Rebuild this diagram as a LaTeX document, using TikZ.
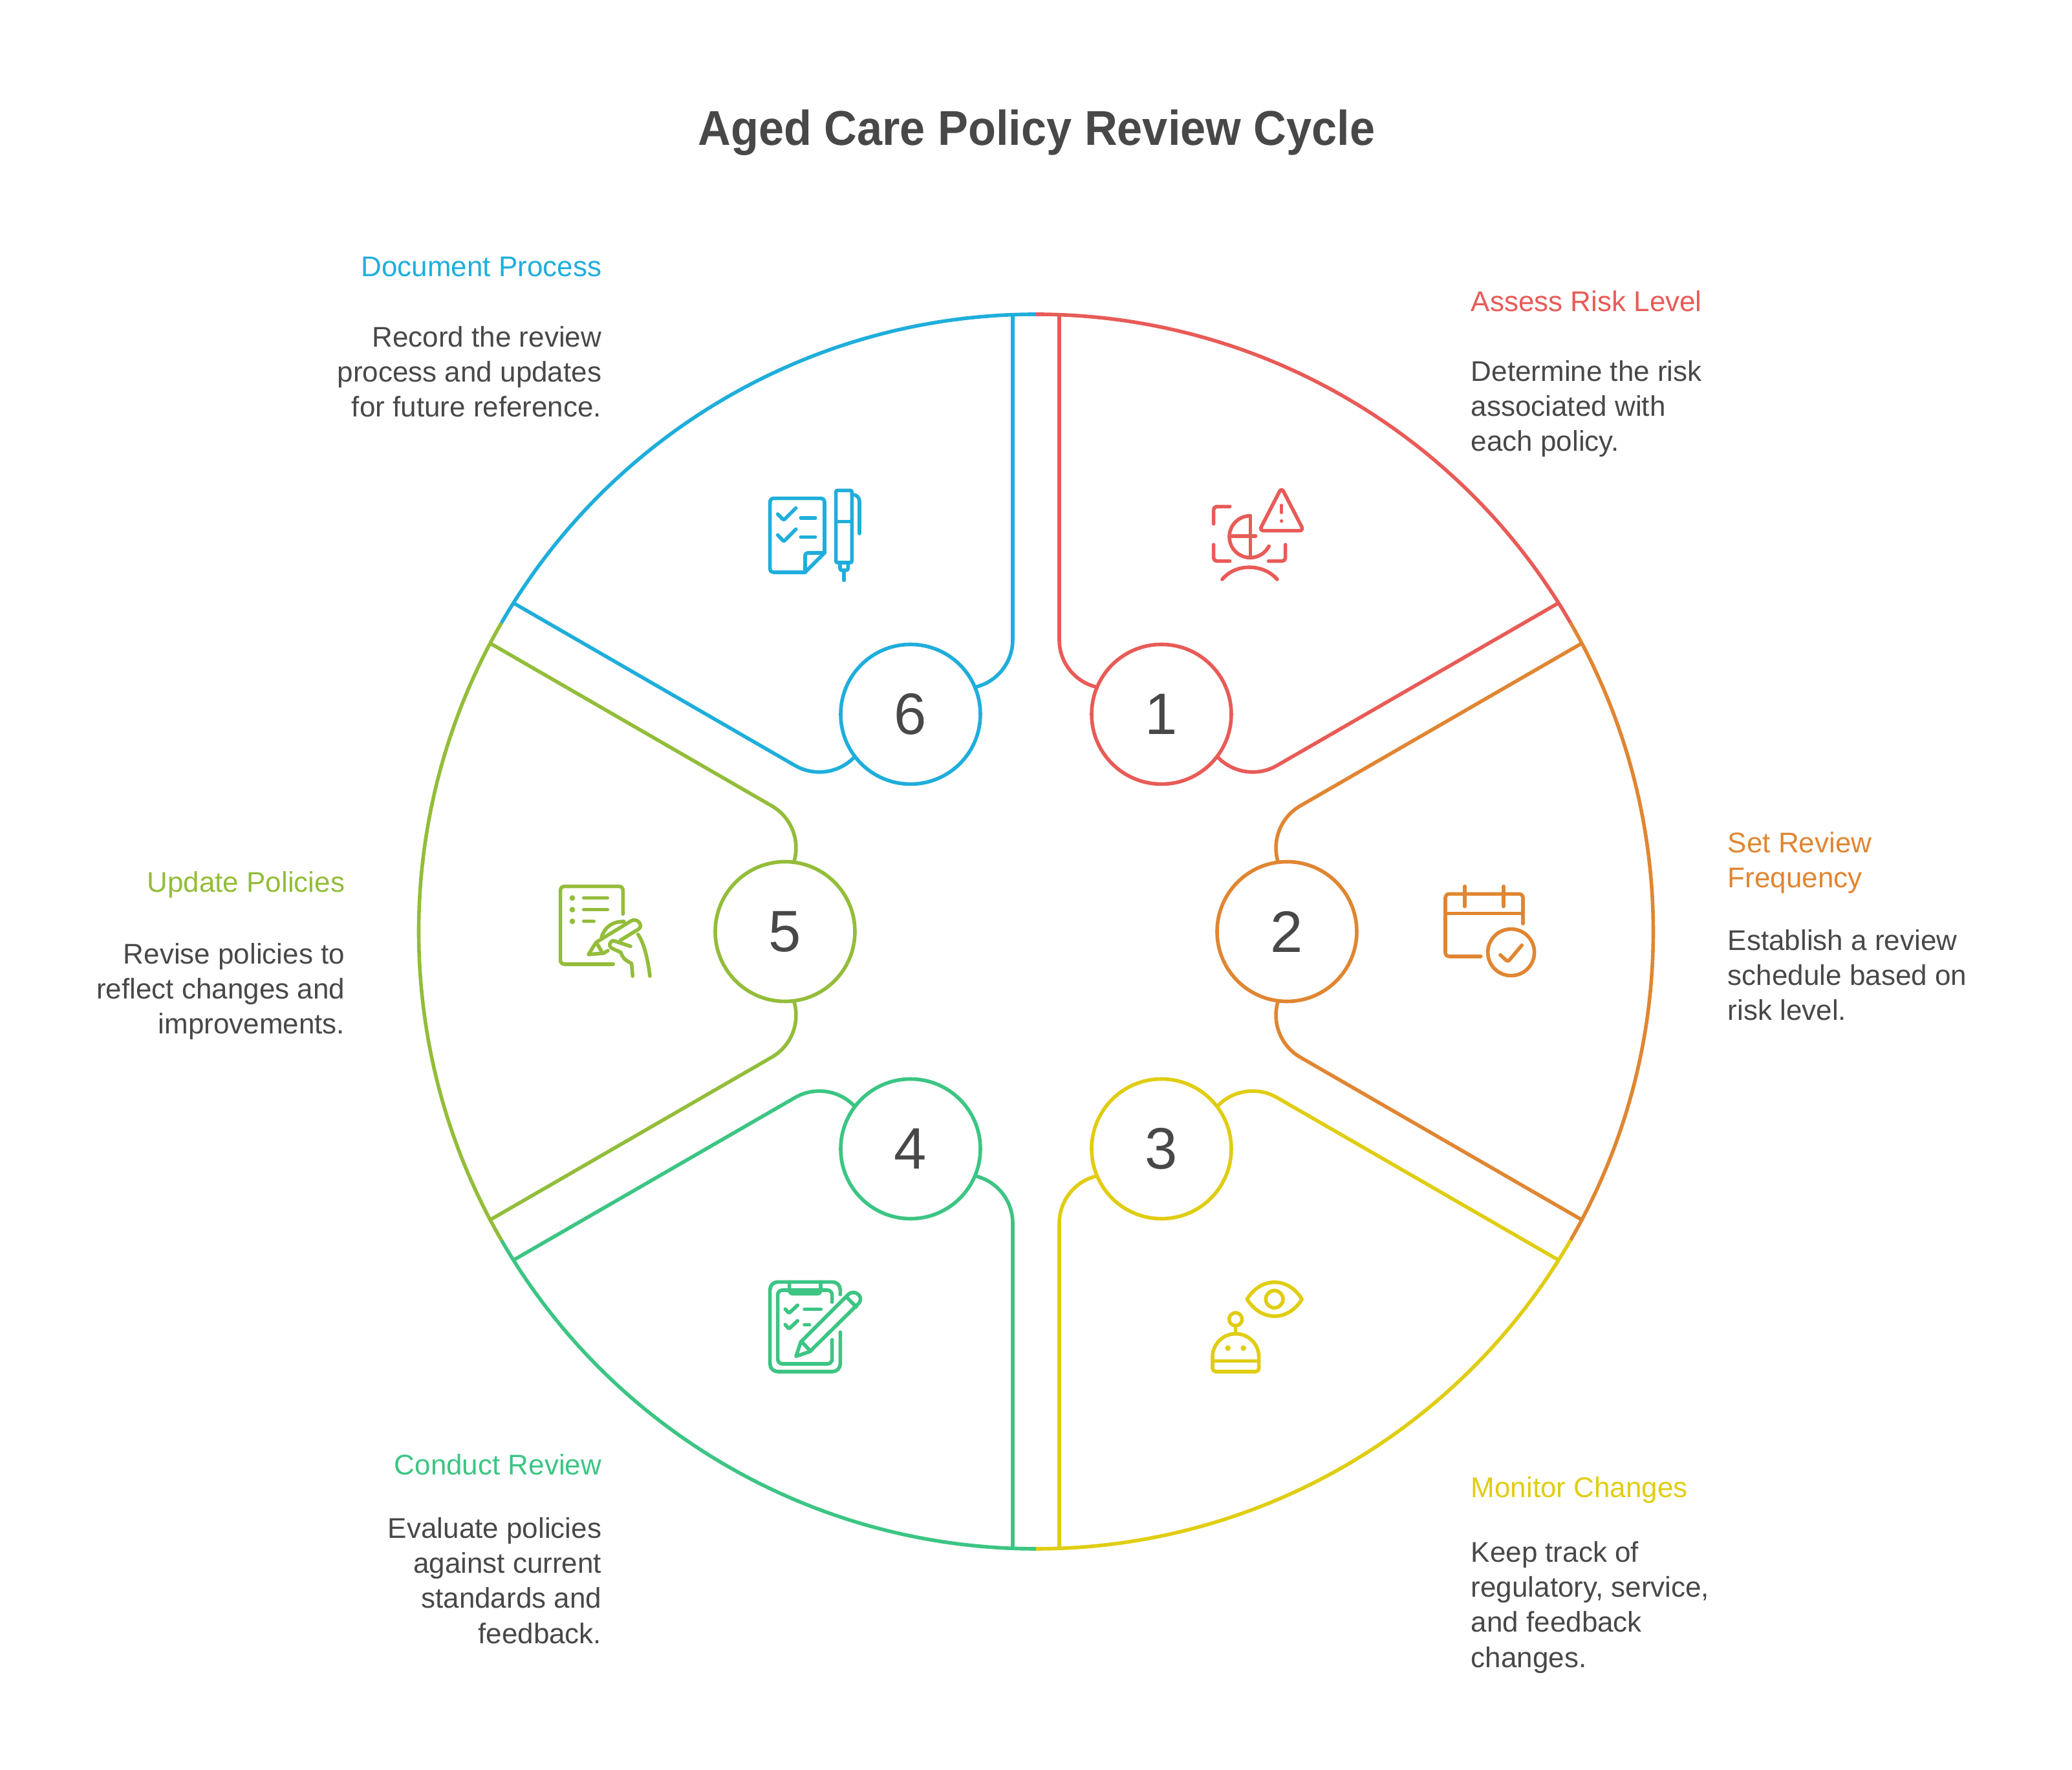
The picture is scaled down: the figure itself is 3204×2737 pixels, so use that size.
\documentclass[tikz,border=0pt]{standalone}
\usepackage{fontspec}
\setmainfont{Liberation Sans}
\newfontfamily\titlefont[FakeStretch=0.93]{Liberation Sans}
\usetikzlibrary{calc}
\definecolor{seg1}{HTML}{E85B57}
\definecolor{seg2}{HTML}{E08632}
\definecolor{seg3}{HTML}{E0CD12}
\definecolor{seg4}{HTML}{3CC583}
\definecolor{seg5}{HTML}{93BD3A}
\definecolor{seg6}{HTML}{1FAEDB}
\definecolor{ink}{HTML}{484848}
\tikzset{
  seg/.style={line width=1.4pt, line join=round},
  ico/.style={line width=1.4pt, line cap=round, line join=round},
  numc/.style={circle, fill=white, line width=1.4pt, minimum size=54pt, inner sep=0pt, text=ink, font=\fontsize{22.6}{24}\selectfont},
  hd/.style={inner sep=0pt, font=\fontsize{11}{13.57}\selectfont},
  bd/.style={inner sep=0pt, text=ink, font=\fontsize{11}{13.57}\selectfont},
  zoomat/.style 2 args={shift={(#1-1602,1440.5-#2)},xscale=0.3333,yscale=-0.3333},
}
\begin{document}
\begin{tikzpicture}[x=0.25pt,y=0.25pt]
  \useasboundingbox (-1602,-1296.5) rectangle (1602,1440.5);
  \node[inner sep=0pt, anchor=base, text=ink, font=\fontsize{18.9}{22}\titlefont\bfseries] (title) at (1,1215.5) {Aged Care Policy Review Cycle};
  % the six segments, all cut from the same outline
  \foreach \n/\ang in {1/0,2/-60,3/-120,4/-180,5/-240,6/-300} {
    \begin{scope}[rotate=\ang]
      \draw[seg,draw=seg\n] (90:954.5) arc[start angle=90,end angle=30,radius=954.5]
        (32.16:954.5) -- ($(43.83:464.5)+(-60:75)$) arc[start angle=-60,end angle=-136,radius=75];
      \draw[seg,draw=seg\n] (87.84:954.5) -- (36,451) arc[start angle=180,end angle=256,radius=75];
      \node[numc,draw=seg\n] (num\n) at (60:388) {\n};
    \end{scope}
  }
  % labels
  \node[hd,text=seg1,anchor=north west] (head1) at (672,992) {Assess Risk Level};
  \node[bd,anchor=north west,align=left] (body1) at (672,884) {Determine the risk\\associated with\\each policy.};
  \node[hd,text=seg2,anchor=north west,align=left] (head2) at (1069,155) {Set Review\\Frequency};
  \node[bd,anchor=north west,align=left] (body2) at (1069,4) {Establish a review\\schedule based on\\risk level.};
  \node[hd,text=seg3,anchor=north west] (head3) at (672,-842) {Monitor Changes};
  \node[bd,anchor=north west,align=left] (body3) at (672,-942) {Keep track of\\regulatory, service,\\and feedback\\changes.};
  \node[hd,text=seg4,anchor=north east] (head4) at (-671,-807) {Conduct Review};
  \node[bd,anchor=north east,align=right] (body4) at (-671,-905) {Evaluate policies\\against current\\standards and\\feedback.};
  \node[hd,text=seg5,anchor=north east] (head5) at (-1068,94) {Update Policies};
  \node[bd,anchor=north east,align=right] (body5) at (-1068,-17) {Revise policies to\\reflect changes and\\improvements.};
  \node[hd,text=seg6,anchor=north east] (head6) at (-671,1044) {Document Process};
  \node[bd,anchor=north east,align=right] (body6) at (-671,937) {Record the review\\process and updates\\for future reference.};
  % icon 1
  \begin{scope}[zoomat={1840}{730},ico,draw=seg1]
    \draw[rounded corners=1.25pt] (110,240) -- (110,160) -- (185,160);
    \draw[rounded corners=1.25pt] (110,337) -- (110,413) -- (185,413);
    \draw[rounded corners=1.25pt] (365,413) -- (443,413) -- (443,337);
    \draw[rounded corners=1.7pt] (425,72) -- (528,272) -- (322,272) -- cycle;
    \draw (425,155) -- (425,187);
    \fill[seg1] (425,227) circle[radius=8];
    \draw (280,203) arc[start angle=-90,end angle=-333,radius=97];
    \draw (280,203) -- (280,392) (183,297) -- (305,297);
    \draw (150,498) .. controls (210,423) and (340,423) .. (405,498);
  \end{scope}
  % icon 2
  \begin{scope}[zoomat={2210}{1350},ico,draw=seg2]
    \draw[rounded corners=1.5pt] (435,235) -- (435,97) -- (75,97) -- (75,387) -- (240,387);
    \draw (75,188) -- (435,188);
    \draw (165,62) -- (165,155) (345,62) -- (345,155);
    \draw (380,368) circle[radius=108];
    \draw[rounded corners=0.8pt] (330,380) -- (365,412) -- (430,335);
  \end{scope}
  % icon 3
  \begin{scope}[zoomat={1850}{1960},ico,draw=seg3]
    \draw (235,147) .. controls (300,42) and (425,42) .. (490,147) .. controls (425,252) and (300,252) .. cycle;
    \draw (362,147) circle[radius=40];
    \draw (182,240) circle[radius=30];
    \draw (182,270) -- (182,308);
    \draw[rounded corners=1.25pt] (75,415) -- (75,483) -- (290,483) -- (290,415);
    \draw (75,415) arc[start angle=180,end angle=360,radius=107.5];
    \draw (75,433) -- (290,433);
    \fill[seg3] (146,374) circle[radius=13] (218,374) circle[radius=13];
  \end{scope}
  % icon 4
  \begin{scope}[zoomat={1170}{1960},ico,draw=seg4]
    \draw[rounded corners=3pt] (388,125) -- (388,67) -- (62,67) -- (62,483) -- (388,483) -- (388,300);
    \draw[rounded corners=1.8pt] (350,160) -- (350,105) -- (98,105) -- (98,447) -- (350,447) -- (350,335);
    \draw[rounded corners=1.25pt] (152,67) -- (152,122) -- (297,122) -- (297,67);
    \draw[rounded corners=0.5pt] (133,193) -- (150,212) -- (190,175);
    \draw[rounded corners=0.5pt] (133,265) -- (150,285) -- (190,247);
    \draw (222,194) -- (298,194) (222,266) -- (245,266);
    \draw (183,412) -- (205,345) -- (425,125) .. controls (450,100) and (500,130) .. (475,165) -- (247,390) -- cycle;
    \draw (420,140) -- (462,183) (210,345) -- (250,388);
  \end{scope}
  % icon 5
  \begin{scope}[zoomat={850}{1350},ico,draw=seg5]
    \draw[rounded corners=1.5pt] (340,190) -- (340,62) -- (50,62) -- (50,423) -- (295,423);
    \fill[seg5] (105,116) circle[radius=13] (105,170) circle[radius=13] (105,224) circle[radius=13];
    \draw (158,116) -- (268,116) (158,170) -- (268,170) (158,224) -- (205,224);
    \draw (270,360) -- (250,372) -- (180,378) -- (215,322) -- (378,222) .. controls (405,205) and (440,245) .. (410,262) -- (328,312);
    \draw (218,325) -- (240,362);
    \draw (375,340) -- (300,315) .. controls (275,310) and (270,345) .. (295,352) -- (330,368) .. controls (340,400) and (355,405) .. (380,420) -- (385,478);
    \draw (410,285) .. controls (440,330) and (455,400) .. (465,478);
    \draw (240,300) .. controls (255,250) and (290,225) .. (345,225);
  \end{scope}
  % icon 6
  \begin{scope}[zoomat={1170}{740},ico,draw=seg6]
    \draw[rounded corners=1.25pt] (315,345) -- (315,92) -- (62,92) -- (62,435) -- (225,435);
    \draw (225,435) -- (315,345);
    \draw[rounded corners=1pt] (225,435) -- (225,345) -- (315,345);
    \draw[rounded corners=0.4pt] (98,165) -- (126,193) -- (182,137);
    \draw[rounded corners=0.4pt] (98,262) -- (126,292) -- (182,235);
    \draw (205,183) -- (272,183) (205,272) -- (272,272);
    \draw[rounded corners=0.6pt] (368,55) rectangle (442,390);
    \draw (368,200) -- (442,200);
    \draw[rounded corners=0.6pt] (387,390) -- (387,425) -- (424,425) -- (424,390);
    \draw (405,425) -- (405,472);
    \draw[rounded corners=2.5pt] (442,75) -- (477,75) -- (477,255);
  \end{scope}
\end{tikzpicture}
\end{document}
